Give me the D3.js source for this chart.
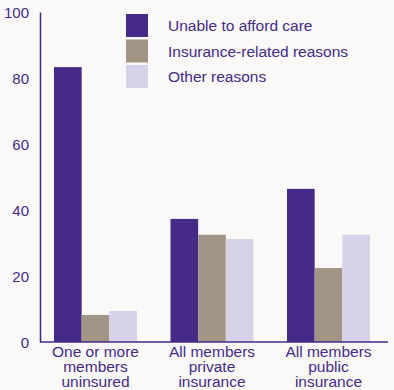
<!DOCTYPE html>
<html><head><meta charset="utf-8">
<script src="https://cdn.jsdelivr.net/npm/d3@7"></script>
<style>
html,body{margin:0;padding:0;background:#faf9f7;}
svg{display:block;}
text{font-family:"Liberation Sans",Arial,sans-serif;fill:#452a87;}
</style></head><body>
<svg id="c" width="394" height="390"></svg>
<script>
const categories = [["One or more","members","uninsured"],["All members","private","insurance"],["All members","public","insurance"]];
const seriesNames = ["Unable to afford care","Insurance-related reasons","Other reasons"];
const unable = [83.3, 37.3, 46.4];
const insurance = [8.2, 32.5, 22.4];
const other = [9.4, 31.2, 32.5];
const yTicks = [0,20,40,60,80,100];
const colors = ["#452a87","#a29585","#d8d2e8"];
const series = [unable, insurance, other];

const svg = d3.select("#c");
svg.append("rect").attr("width",394).attr("height",390).attr("fill","#faf9f7");

const y = d3.scaleLinear().domain([0,100]).range([342,12]);
const x0 = d3.scaleBand().domain(d3.range(categories.length)).range([54,370]).paddingInner(0.2876).paddingOuter(0);
const x1 = d3.scaleBand().domain(d3.range(series.length)).range([0,x0.bandwidth()]);

// bars
series.forEach((vals,si)=>{
  svg.append("g").selectAll("rect").data(vals).join("rect")
    .attr("x",(d,i)=>x0(i)+x1(si))
    .attr("width",x1.bandwidth())
    .attr("y",d=>y(d))
    .attr("height",d=>y(0)-y(d))
    .attr("fill",colors[si]);
});

// y axis
const yAxis = d3.axisLeft(y).tickValues(yTicks).tickSize(0).tickPadding(10);
const gy = svg.append("g").attr("transform","translate(40,0)").call(yAxis);
gy.select(".domain").attr("stroke","#452a87").attr("stroke-width",1.5);
gy.selectAll("text").style("font-size","15px").attr("fill","#452a87").attr("text-anchor","end").attr("x",-11).attr("dy","0.36em");

// x axis line
svg.append("line").attr("x1",40).attr("x2",388).attr("y1",y(0)).attr("y2",y(0)).attr("stroke","#452a87").attr("stroke-width",1.5);

// category labels
categories.forEach((lines,i)=>{
  const cx = x0(i)+x0.bandwidth()/2;
  const t = svg.append("text").attr("text-anchor","middle").style("font-size","15.5px")
    .attr("x",cx).attr("y",357);
  lines.forEach((l,j)=>t.append("tspan").attr("x",cx).attr("dy",j?15:0).text(l));
});

// legend
const lg = svg.append("g").attr("transform","translate(126,14)");
seriesNames.forEach((n,i)=>{
  lg.append("rect").attr("x",0).attr("y",i*25.5).attr("width",22).attr("height",23).attr("fill",colors[i]);
  lg.append("text").attr("x",42).attr("y",i*25.5+11.5).attr("dy","0.36em").style("font-size","15.5px").text(n);
});
</script>
</body></html>
